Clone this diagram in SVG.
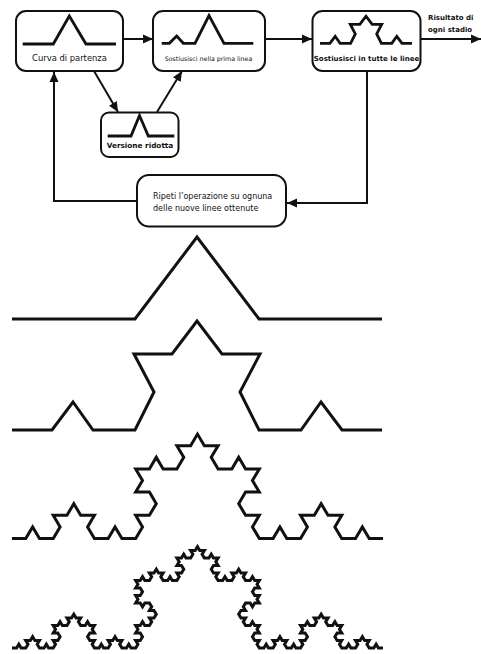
<svg xmlns="http://www.w3.org/2000/svg" width="481" height="654" viewBox="0 0 481 654">
<style>
  .box{fill:#fff;stroke:#111;stroke-width:2}
  .curve{fill:none;stroke:#111;stroke-width:2.8;stroke-linejoin:miter;stroke-miterlimit:10}
  .big{fill:none;stroke:#111;stroke-width:3;stroke-linejoin:miter;stroke-miterlimit:10}
  .conn{fill:none;stroke:#111;stroke-width:2}
  .t{font-family:"DejaVu Sans","Liberation Sans",sans-serif;fill:#111}
  .b{font-weight:bold}
</style>
<defs>
  <marker id="arr" markerUnits="userSpaceOnUse" markerWidth="11" markerHeight="10" refX="10" refY="5" orient="auto">
    <path d="M0 0.5 L10 5 L0 9.5 z" fill="#111"/>
  </marker>
</defs>
<rect width="481" height="654" fill="#fff"/>

<g id="connectors">
  <path class="conn" d="M123 39 L153 39" marker-end="url(#arr)"/>
  <path class="conn" d="M265 39 L312 39" marker-end="url(#arr)"/>
  <path class="conn" d="M421 39 L481 39" marker-end="url(#arr)"/>
  <path class="conn" d="M94 71 L118 112" marker-end="url(#arr)"/>
  <path class="conn" d="M157 112 L182 71" marker-end="url(#arr)"/>
  <path class="conn" d="M367 71 L367 203 L287 203" marker-end="url(#arr)"/>
  <path class="conn" d="M137 201 L54 201 L54 72" marker-end="url(#arr)"/>
</g>

<g id="curva-di-partenza">
  <rect class="box" x="16" y="11" width="107" height="60" rx="10"/>
  <polyline class="curve" points="22.7,44 53.3,44 69.3,16 86,44 116,44"/>
  <text class="t" x="69.5" y="61" font-size="8.4" text-anchor="middle">Curva di partenza</text>
</g>

<g id="sostituisci-prima">
  <rect class="box" x="153" y="11" width="112" height="60" rx="10"/>
  <polyline class="curve" points="161.7,43.3 169.3,43.3 176.7,36 183.3,43.3 195,43.3 209,15.5 224,43.3 253.3,43.3"/>
  <text class="t" x="208.5" y="61" font-size="6.3" text-anchor="middle">Sostiusisci nella prima linea</text>
</g>

<g id="sostituisci-tutte">
  <rect class="box" x="312.5" y="11" width="108" height="60" rx="10"/>
  <polyline class="curve" points="320,43.3 329.9,43.3 335.2,36.3 340.1,43.3 350.6,43.3 355.3,33.9 350.3,24.4 359.8,24.4 366,16.2 372.2,24.4 381.7,24.4 376.7,33.9 381.4,43.3 391.8,43.3 396.8,36.3 402,43.3 412,43.3"/>
  <text class="t b" x="366.5" y="61" font-size="7" text-anchor="middle">Sostiusisci in tutte le linee</text>
</g>

<g id="risultato">
  <text class="t b" x="428" y="20" font-size="7">Risultato di</text>
  <text class="t b" x="428" y="32" font-size="7">ogni stadio</text>
</g>

<g id="versione-ridotta">
  <rect class="box" x="101" y="112.5" width="77.5" height="44.5" rx="8"/>
  <polyline class="curve" points="107.7,136 131,136 139.5,115.5 148.3,136 174.3,136"/>
  <text class="t b" x="140" y="148" font-size="7.3" text-anchor="middle">Versione ridotta</text>
</g>

<g id="ripeti">
  <rect class="box" x="137" y="175" width="149" height="51.5" rx="12"/>
  <text class="t" x="153" y="199" font-size="8">Ripeti l’operazione su ognuna</text>
  <text class="t" x="153" y="210.5" font-size="8">delle nuove linee ottenute</text>
</g>

<g id="koch-1">
  <polyline class="big" points="12,319 135,319 197,237 259,319 382,319"/>
</g>

<g id="koch-2">
  <polyline class="big" points="12,430 52,430 73,402 93,430 135,430 154,392 134,354 172,354 197,321 222,354 260,354 240,392 259,430 301,430 321,402 342,430 382,430"/>
</g>

<g id="koch-3">
  <path class="big" d="M12 538.5 l
13.74 0 6.87 -11.6 6.87 11.6 13.74 0
6.87 -11.6 -6.87 -11.6 13.74 0 6.87 -11.6
6.87 11.6 13.74 0 -6.87 11.6 6.87 11.6
13.74 0 6.87 -11.6 6.87 11.6 13.74 0
6.87 -11.6 -6.87 -11.6 13.74 0 6.87 -11.6
-6.87 -11.6 -13.74 0 6.87 -11.6 -6.87 -11.6
13.74 0 6.87 -11.6 6.87 11.6 13.74 0
6.87 -11.6 -6.87 -11.6 13.74 0 6.87 -11.6
6.87 11.6 13.74 0 -6.87 11.6 6.87 11.6
13.74 0 6.87 -11.6 6.87 11.6 13.74 0
-6.87 11.6 6.87 11.6 -13.74 0 -6.87 11.6
6.87 11.6 13.74 0 -6.87 11.6 6.87 11.6
13.74 0 6.87 -11.6 6.87 11.6 13.74 0
6.87 -11.6 -6.87 -11.6 13.74 0 6.87 -11.6
6.87 11.6 13.74 0 -6.87 11.6 6.87 11.6
13.74 0 6.87 -11.6 6.87 11.6 13.74 0"/>
</g>

<g id="koch-4">
  <path class="big" stroke-width="2.6" d="M12 648 l
4.58 0 2.29 -3.75 2.29 3.75 4.58 0
2.29 -3.75 -2.29 -3.75 4.58 0 2.29 -3.75
2.29 3.75 4.58 0 -2.29 3.75 2.29 3.75
4.58 0 2.29 -3.75 2.29 3.75 4.58 0
2.29 -3.75 -2.29 -3.75 4.58 0 2.29 -3.75
-2.29 -3.75 -4.58 0 2.29 -3.75 -2.29 -3.75
4.58 0 2.29 -3.75 2.29 3.75 4.58 0
2.29 -3.75 -2.29 -3.75 4.58 0 2.29 -3.75
2.29 3.75 4.58 0 -2.29 3.75 2.29 3.75
4.58 0 2.29 -3.75 2.29 3.75 4.58 0
-2.29 3.75 2.29 3.75 -4.58 0 -2.29 3.75
2.29 3.75 4.58 0 -2.29 3.75 2.29 3.75
4.58 0 2.29 -3.75 2.29 3.75 4.58 0
2.29 -3.75 -2.29 -3.75 4.58 0 2.29 -3.75
2.29 3.75 4.58 0 -2.29 3.75 2.29 3.75
4.58 0 2.29 -3.75 2.29 3.75 4.58 0

2.29 -3.75 -2.29 -3.75 4.58 0 2.29 -3.75
-2.29 -3.75 -4.58 0 2.29 -3.75 -2.29 -3.75
4.58 0 2.29 -3.75 2.29 3.75 4.58 0
2.29 -3.75 -2.29 -3.75 4.58 0 2.29 -3.75
-2.29 -3.75 -4.58 0 2.29 -3.75 -2.29 -3.75
-4.58 0 -2.29 3.75 -2.29 -3.75 -4.58 0
2.29 -3.75 -2.29 -3.75 4.58 0 2.29 -3.75
-2.29 -3.75 -4.58 0 2.29 -3.75 -2.29 -3.75
4.58 0 2.29 -3.75 2.29 3.75 4.58 0
2.29 -3.75 -2.29 -3.75 4.58 0 2.29 -3.75
2.29 3.75 4.58 0 -2.29 3.75 2.29 3.75
4.58 0 2.29 -3.75 2.29 3.75 4.58 0
2.29 -3.75 -2.29 -3.75 4.58 0 2.29 -3.75
-2.29 -3.75 -4.58 0 2.29 -3.75 -2.29 -3.75
4.58 0 2.29 -3.75 2.29 3.75 4.58 0
2.29 -3.75 -2.29 -3.75 4.58 0 2.29 -3.75

2.29 3.75 4.58 0 -2.29 3.75 2.29 3.75
4.58 0 2.29 -3.75 2.29 3.75 4.58 0
-2.29 3.75 2.29 3.75 -4.58 0 -2.29 3.75
2.29 3.75 4.58 0 -2.29 3.75 2.29 3.75
4.58 0 2.29 -3.75 2.29 3.75 4.58 0
2.29 -3.75 -2.29 -3.75 4.58 0 2.29 -3.75
2.29 3.75 4.58 0 -2.29 3.75 2.29 3.75
4.58 0 2.29 -3.75 2.29 3.75 4.58 0
-2.29 3.75 2.29 3.75 -4.58 0 -2.29 3.75
2.29 3.75 4.58 0 -2.29 3.75 2.29 3.75
-4.58 0 -2.29 3.75 -2.29 -3.75 -4.58 0
-2.29 3.75 2.29 3.75 -4.58 0 -2.29 3.75
2.29 3.75 4.58 0 -2.29 3.75 2.29 3.75
4.58 0 2.29 -3.75 2.29 3.75 4.58 0
-2.29 3.75 2.29 3.75 -4.58 0 -2.29 3.75
2.29 3.75 4.58 0 -2.29 3.75 2.29 3.75

4.58 0 2.29 -3.75 2.29 3.75 4.58 0
2.29 -3.75 -2.29 -3.75 4.58 0 2.29 -3.75
2.29 3.75 4.58 0 -2.29 3.75 2.29 3.75
4.58 0 2.29 -3.75 2.29 3.75 4.58 0
2.29 -3.75 -2.29 -3.75 4.58 0 2.29 -3.75
-2.29 -3.75 -4.58 0 2.29 -3.75 -2.29 -3.75
4.58 0 2.29 -3.75 2.29 3.75 4.58 0
2.29 -3.75 -2.29 -3.75 4.58 0 2.29 -3.75
2.29 3.75 4.58 0 -2.29 3.75 2.29 3.75
4.58 0 2.29 -3.75 2.29 3.75 4.58 0
-2.29 3.75 2.29 3.75 -4.58 0 -2.29 3.75
2.29 3.75 4.58 0 -2.29 3.75 2.29 3.75
4.58 0 2.29 -3.75 2.29 3.75 4.58 0
2.29 -3.75 -2.29 -3.75 4.58 0 2.29 -3.75
2.29 3.75 4.58 0 -2.29 3.75 2.29 3.75
4.58 0 2.29 -3.75 2.29 3.75 4.58 0"/>
</g>
</svg>
